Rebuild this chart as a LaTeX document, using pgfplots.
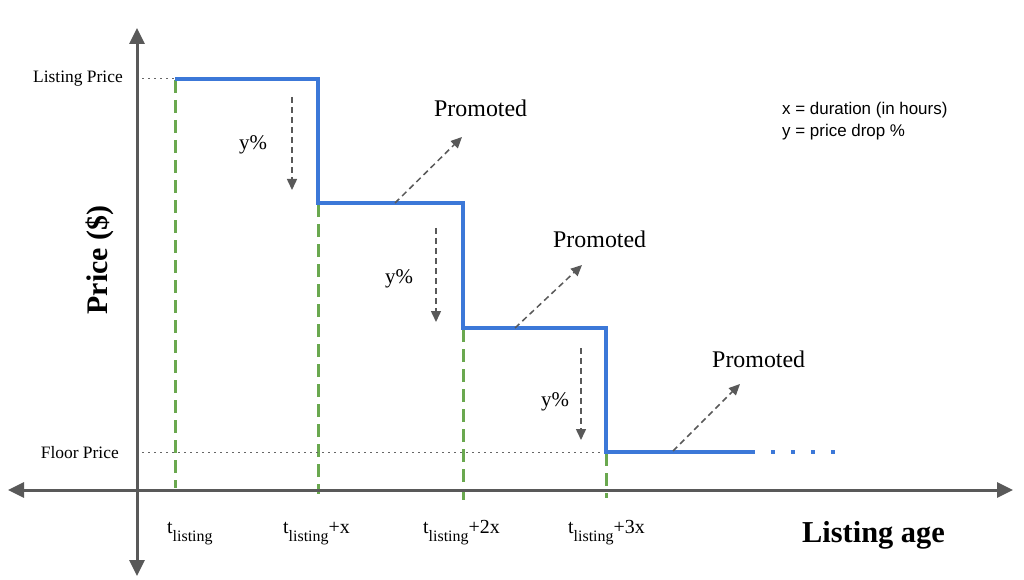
\documentclass[border=0pt]{standalone}
\usepackage{pgfplots}
\pgfplotsset{compat=1.18}
\usepackage{fontspec}
\setmainfont{Liberation Serif}
\newfontfamily\arial{Liberation Sans}
\usetikzlibrary{arrows.meta}
\definecolor{axgray}{HTML}{595959}
\definecolor{stepblue}{HTML}{3C78D8}
\definecolor{guidegreen}{HTML}{6AA84F}
\definecolor{dotgray}{HTML}{666666}
\newcommand{\tl}{t\raisebox{-8bp}{\fontsize{16}{16}\selectfont listing}}
\begin{document}
\begin{tikzpicture}
\begin{axis}[scale only axis, width=1024bp, height=580bp,
  xmin=0, xmax=1024, ymin=0, ymax=580, y dir=reverse,
  hide axis, clip=false, no markers]
% guide lines
\addplot[guidegreen, line width=3bp, dash pattern=on 13bp off 7bp] coordinates {(175,80)(175,488)};
\addplot[guidegreen, line width=3bp, dash pattern=on 13bp off 7bp] coordinates {(318,204)(318,494)};
\addplot[guidegreen, line width=3bp, dash pattern=on 13bp off 7bp] coordinates {(463,329)(463,500)};
\addplot[guidegreen, line width=3bp, dash pattern=on 13bp off 7bp] coordinates {(606,453)(606,498)};
\addplot[dotgray, line width=1bp, dash pattern=on 1.5bp off 4.5bp] coordinates {(142,79)(175,79)};
\addplot[dotgray, line width=1bp, dash pattern=on 1.5bp off 4.5bp] coordinates {(142,452)(606,452)};
% axes
\addplot[axgray, line width=3bp, {Triangle[length=16bp,width=15bp]}-{Triangle[length=16bp,width=15bp]}] coordinates {(8,490)(1013,490)};
\addplot[axgray, line width=3bp, {Triangle[length=16bp,width=15bp]}-{Triangle[length=16bp,width=15bp]}] coordinates {(137,28)(137,576)};
% step line
\addplot[stepblue, line width=4bp] coordinates {(175,79)(318,79)(318,203)(463,203)(463,328)(606,328)(606,452)(751,452)};
\addplot[stepblue, line width=4bp, dash pattern=on 4bp off 16bp] coordinates {(751,452)(836,452)};
% drop arrows
\addplot[axgray, line width=1.5bp, dash pattern=on 6bp off 4bp, -{Triangle[length=11bp,width=10bp]}] coordinates {(292,97)(292,190)};
\addplot[axgray, line width=1.5bp, dash pattern=on 6bp off 4bp, -{Triangle[length=11bp,width=10bp]}] coordinates {(436,228)(436,322)};
\addplot[axgray, line width=1.5bp, dash pattern=on 6bp off 4bp, -{Triangle[length=11bp,width=10bp]}] coordinates {(581,348)(581,440)};
% promoted arrows
\addplot[axgray, line width=1.5bp, dash pattern=on 6bp off 4bp, -{Triangle[length=11bp,width=10bp]}] coordinates {(395,203)(462,137)};
\addplot[axgray, line width=1.5bp, dash pattern=on 6bp off 4bp, -{Triangle[length=11bp,width=10bp]}] coordinates {(515,328)(582,265)};
\addplot[axgray, line width=1.5bp, dash pattern=on 6bp off 4bp, -{Triangle[length=11bp,width=10bp]}] coordinates {(673,451)(740,384)};
% texts
\node[anchor=base east, inner sep=0pt, font=\fontsize{17.5}{20}\selectfont] at (axis cs:123,83) {Listing Price};
\node[anchor=base east, inner sep=0pt, font=\fontsize{17.5}{20}\selectfont] at (axis cs:119,458) {Floor Price};
\node[anchor=base west, inner sep=0pt, font=\fontsize{20}{22}\selectfont] at (axis cs:167,533) {\tl};
\node[anchor=base west, inner sep=0pt, font=\fontsize{20}{22}\selectfont] at (axis cs:283,533) {\tl+x};
\node[anchor=base west, inner sep=0pt, font=\fontsize{20}{22}\selectfont] at (axis cs:423,533) {\tl+2x};
\node[anchor=base west, inner sep=0pt, font=\fontsize{20}{22}\selectfont] at (axis cs:568,533) {\tl+3x};
\node[anchor=base west, inner sep=0pt, font=\fontsize{21}{22}\selectfont] at (axis cs:239,150) {y\%};
\node[anchor=base west, inner sep=0pt, font=\fontsize{21}{22}\selectfont] at (axis cs:385,284) {y\%};
\node[anchor=base west, inner sep=0pt, font=\fontsize{21}{22}\selectfont] at (axis cs:541,406) {y\%};
\node[anchor=base west, inner sep=0pt, font=\fontsize{24}{26}\selectfont] at (axis cs:434,117) {Promoted};
\node[anchor=base west, inner sep=0pt, font=\fontsize{24}{26}\selectfont] at (axis cs:553,248) {Promoted};
\node[anchor=base west, inner sep=0pt, font=\fontsize{24}{26}\selectfont] at (axis cs:712,367) {Promoted};
\node[anchor=base west, inner sep=0pt, font=\bfseries\fontsize{30.5}{32}\selectfont] at (axis cs:802,542) {Listing age};
\node[anchor=center, inner sep=0pt, rotate=90, font=\bfseries\fontsize{30}{32}\selectfont] at (axis cs:100,260) {Price (\$)};
\node[anchor=base west, inner sep=0pt, font=\arial\fontsize{17}{20}\selectfont] at (axis cs:782,115) {x = duration (in hours)};
\node[anchor=base west, inner sep=0pt, font=\arial\fontsize{17}{20}\selectfont] at (axis cs:782,137) {y = price drop \%};
\end{axis}
\pgfresetboundingbox
\path (current axis.south west) rectangle (current axis.north east);
\end{tikzpicture}
\end{document}
